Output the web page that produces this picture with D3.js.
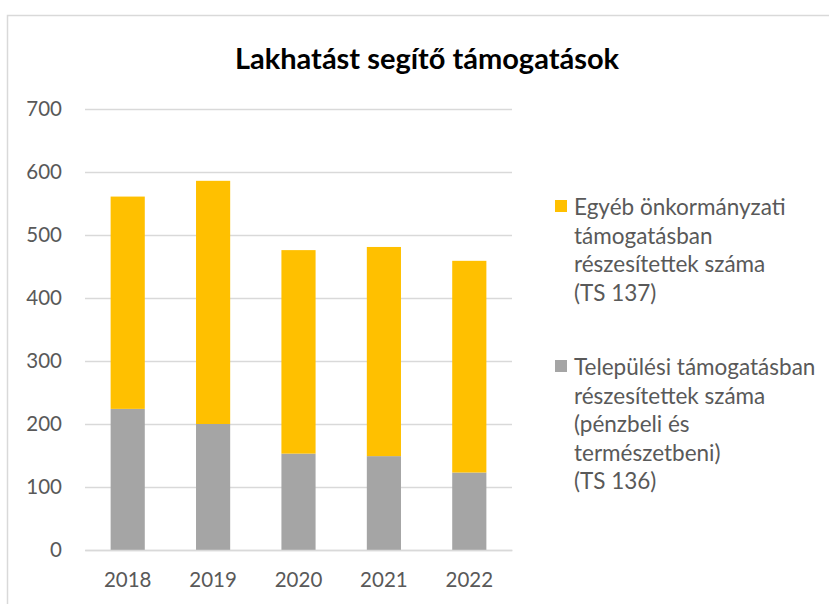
<!DOCTYPE html>
<html>
<head>
<meta charset="utf-8">
<script src="https://cdn.jsdelivr.net/npm/d3@7"></script>
<style>
  body { margin: 0; background: #fff; }
  svg text { font-family: Lato, "Open Sans", sans-serif; }
</style>
</head>
<body>
<svg id="chart" width="829" height="604"></svg>
<script>
// data
var years = ["2018", "2019", "2020", "2021", "2022"];
var telepulesi = [224, 200, 153, 149, 123];   // TS 136 (grey, bottom)
var egyeb = [337, 386, 323, 332, 336];        // TS 137 (yellow, top)
var yTicks = [0, 100, 200, 300, 400, 500, 600, 700];

var seriesKeys = ["telepulesi", "egyeb"];
var seriesColors = { telepulesi: "#a5a5a5", egyeb: "#ffc000" };
var legendLines = {
  egyeb: ["Egyéb önkormányzati", "támogatásban", "részesítettek száma", "(TS 137)"],
  telepulesi: ["Települési támogatásban", "részesítettek száma", "(pénzbeli és", "természetbeni)", "(TS 136)"]
};

var rows = years.map(function(y, i) {
  return { year: y, telepulesi: telepulesi[i], egyeb: egyeb[i] };
});

var svg = d3.select("#chart");

// outer chart frame
svg.append("rect")
  .attr("x", 7.5).attr("y", 15.5)
  .attr("width", 840).attr("height", 620)
  .attr("fill", "none").attr("stroke", "#d9d9d9").attr("stroke-width", 1.5);

svg.append("text")
  .attr("x", 427).attr("y", 69)
  .attr("text-anchor", "middle")
  .style("font-size", "29px").style("font-weight", "bold")
  .attr("fill", "#000")
  .text("Lakhatást segítő támogatások");

var plotLeft = 85, plotRight = 512, plotTop = 109, plotBottom = 550;

var x = d3.scaleBand().domain(years).range([plotLeft, plotRight]).paddingInner(0.6).paddingOuter(0.3);
var y = d3.scaleLinear().domain([0, 700]).range([plotBottom, plotTop]);

// gridlines
svg.append("g")
  .attr("transform", "translate(" + plotLeft + ",0)")
  .call(d3.axisLeft(y).tickValues(yTicks).tickSize(-(plotRight - plotLeft)).tickFormat(""))
  .call(function(g) { g.select(".domain").remove(); })
  .selectAll("line").attr("stroke", "#d9d9d9").attr("stroke-width", 1.3);

// y labels
svg.append("g")
  .attr("transform", "translate(" + plotLeft + ",0)")
  .call(d3.axisLeft(y).tickValues(yTicks).tickSize(0).tickPadding(23))
  .call(function(g) { g.select(".domain").remove(); })
  .selectAll("text").attr("fill", "#595959").style("font-size", "20.5px");

var stack = d3.stack().keys(seriesKeys)(rows);

svg.append("g").selectAll("g")
  .data(stack).join("g")
  .attr("fill", function(d) { return seriesColors[d.key]; })
  .selectAll("rect")
  .data(function(d) { return d; }).join("rect")
  .attr("x", function(d) { return x(d.data.year); })
  .attr("width", x.bandwidth())
  .attr("y", function(d) { return y(d[1]); })
  .attr("height", function(d) { return y(d[0]) - y(d[1]); });

// x axis line + labels
svg.append("g")
  .attr("transform", "translate(0," + plotBottom + ")")
  .call(d3.axisBottom(x).tickSize(0).tickPadding(22))
  .call(function(g) { g.select(".domain").attr("stroke", "#d9d9d9").attr("stroke-width", 1.3); })
  .selectAll("text").attr("fill", "#595959").style("font-size", "20.5px");

// legend
var legendOrder = ["egyeb", "telepulesi"];
var legendTop = [207, 367];
var legend = svg.append("g");
legendOrder.forEach(function(k, i) {
  legend.append("rect")
    .attr("x", 555).attr("y", legendTop[i] - 7)
    .attr("width", 12).attr("height", 12)
    .attr("fill", seriesColors[k]);
  legend.append("text")
    .attr("fill", "#595959").style("font-size", "22.5px")
    .selectAll("tspan").data(legendLines[k]).join("tspan")
    .attr("x", 574)
    .attr("y", function(d, j) { return legendTop[i] + 8 + j * 28.6; })
    .text(function(d) { return d; });
});
</script>
</body>
</html>
